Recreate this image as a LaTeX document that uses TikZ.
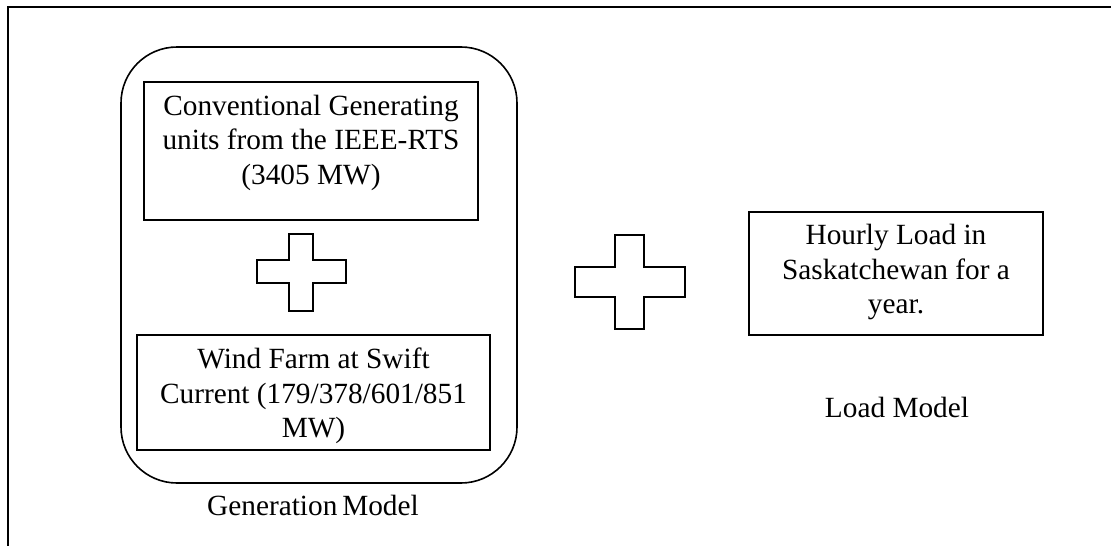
\documentclass[tikz,border=0pt]{standalone}
\usepackage{fontspec}
\setmainfont{Liberation Serif}
\begin{document}
\begin{tikzpicture}[x=1pt,y=-1pt,
  every node/.style={font=\fontsize{29.3}{34.5}\selectfont, inner sep=0pt},
  txt/.style={align=center},
  crossstyle/.style={draw, line width=1.8pt, line join=miter}]
\useasboundingbox (0,0) rectangle (1111,546);
% outer frame (open at right and bottom)
\draw[line width=1.8pt] (8,546) -- (8,7) -- (1111,7);
% generation model rounded box
\draw[line width=1.6pt, rounded corners=56pt] (121,47) rectangle (517,483);
% boxes
\node[draw, line width=1.8pt, minimum width=334pt, minimum height=138pt] (conv) at (311,151) {};
\node[txt] (convt) at (311,142.5) {Conventional Generating\\units from the IEEE-RTS\\(3405 MW)};
\node[draw, line width=1.8pt, minimum width=353pt, minimum height=115pt] (wind) at (313.5,392.5) {};
\node[txt] (windt) at (313.5,396) {Wind Farm at Swift\\Current (179/378/601/851\\MW)};
\node[draw, line width=1.8pt, minimum width=294pt, minimum height=123pt] (load) at (896,273.5) {};
\node[txt] (loadt) at (896,272) {Hourly Load in\\Saskatchewan for a\\year.};
% labels
\node (genlbl) at (313,505) {Generation\,Model};
\node (loadlbl) at (897,407) {Load Model};
% crosses
\draw[crossstyle] (289,234) -- (313,234) -- (313,260) -- (346,260) -- (346,283) -- (313,283) -- (313,311) -- (289,311) -- (289,283) -- (257,283) -- (257,260) -- (289,260) -- cycle;
\draw[crossstyle] (615,235) -- (644,235) -- (644,267) -- (685,267) -- (685,297) -- (644,297) -- (644,329) -- (615,329) -- (615,297) -- (575,297) -- (575,267) -- (615,267) -- cycle;
\end{tikzpicture}
\end{document}
